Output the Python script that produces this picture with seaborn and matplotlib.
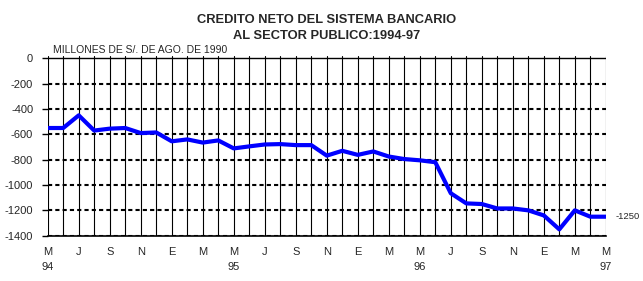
import matplotlib
matplotlib.use("Agg")
import matplotlib.pyplot as plt
import matplotlib.transforms as mtransforms
from matplotlib import font_manager
import seaborn as sns
import pandas as pd
import numpy as np

# ---- data ----
month_index = list(range(37))  # May 1994 .. May 1997
credit_values = [-550, -550, -450, -570, -555, -550, -590, -585, -655, -640,
                 -665, -648, -711, -695, -680, -677, -685, -685, -768, -730,
                 -762, -735, -775, -795, -805, -820, -1065, -1145, -1150, -1185,
                 -1185, -1200, -1240, -1350, -1200, -1250, -1250]
month_labels = ["M", "J", "S", "N", "E", "M", "M", "J", "S", "N", "E", "M",
                "M", "J", "S", "N", "E", "M", "M"]
month_label_pos = list(range(0, 37, 2))
year_labels = ["94", "95", "96", "97"]
year_label_pos = [0, 12, 24, 36]
y_ticks = [0, -200, -400, -600, -800, -1000, -1200, -1400]
end_label = "-1250"

sns.set_theme(style="white")
names = {f.name for f in font_manager.fontManager.ttflist}
base = "Liberation Sans" if "Liberation Sans" in names else "DejaVu Sans"
plt.rcParams["font.family"] = [base, "DejaVu Sans"]

df = pd.DataFrame({"mes": month_index, "valor": credit_values})

fig = plt.figure(figsize=(6.43, 2.81), dpi=100)
ax = fig.add_axes([0.0742, 0.1612, 0.868, 0.638])

sns.lineplot(data=df, x="mes", y="valor", ax=ax, color=(0, 0, 1), linewidth=3.0, zorder=5)

ax.set_xlim(0, 36)
ax.set_ylim(-1400, 15)

# vertical solid grid at every month
for m in month_index:
    ax.axvline(m, color="black", linewidth=0.8, zorder=1)
# horizontal dotted grid
for yv in y_ticks[1:]:
    ax.axhline(yv, color="black", linewidth=1.5, linestyle=(0, (2, 1.5)), zorder=2)
ax.axhline(0, color="black", linewidth=1.0, zorder=2)

for s in ["top", "right"]:
    ax.spines[s].set_visible(False)
ax.spines["left"].set_visible(False)
ax.spines["bottom"].set_color("black")
ax.spines["bottom"].set_linewidth(1.2)

ax.set_yticks(y_ticks)
ax.set_yticklabels([str(v) for v in y_ticks], fontsize=8)
ax.tick_params(axis="y", length=4.5, width=1.0, color="black", pad=6, left=True)
ax.set_xticks(month_label_pos)
ax.set_xticklabels(month_labels, fontsize=8)
ax.tick_params(axis="x", length=0, pad=8)
ax.set_xlabel("")
ax.set_ylabel("")

trans = mtransforms.blended_transform_factory(ax.transData, ax.transAxes)
for pos, lab in zip(year_label_pos, year_labels):
    ax.text(pos, -0.175, lab, transform=trans, ha="center", va="center", fontsize=8)

ax.annotate(end_label, xy=(36, credit_values[-1]), xytext=(6.7, 0), textcoords="offset points",
            ha="left", va="center", fontsize=6.8)

fig.text(52.7 / 643, 1 - 50 / 281, "MILLONES DE S/. DE AGO. DE 1990", fontsize=7.5,
         ha="left", va="center")
fig.text(327 / 643, 1 - 19.7 / 281, "CREDITO NETO DEL SISTEMA BANCARIO", fontsize=9.3,
         fontweight="bold", ha="center", va="center")
fig.text(327 / 643, 1 - 35.7 / 281, "AL SECTOR PUBLICO:1994-97", fontsize=9.3,
         fontweight="bold", ha="center", va="center")

fig.savefig("out.png", dpi=100)
